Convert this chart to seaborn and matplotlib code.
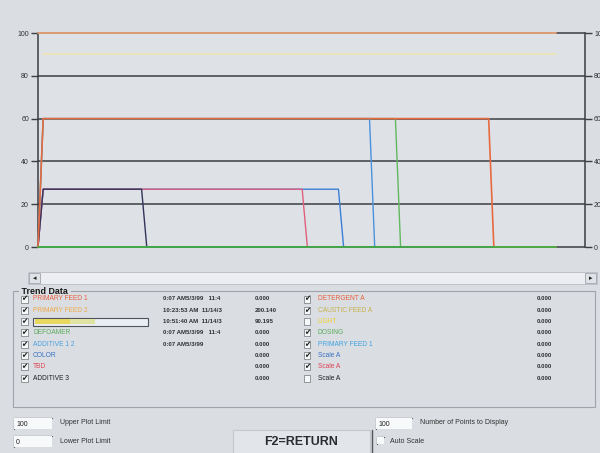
import matplotlib
matplotlib.use("Agg")
import matplotlib.pyplot as plt
import seaborn as sns
import pandas as pd
from matplotlib.patches import Rectangle
from matplotlib.lines import Line2D

sns.set_theme(style="white")
plt.rcParams['font.family'] = ['Liberation Sans', 'DejaVu Sans']

# ---------------- data (sample index vs value) ----------------
top_x = [0, 100];                 top_y = [100, 100]
upper_x = [1, 100];               upper_y = [90, 90]
green60_x = [0, 1, 69, 70, 100];  green60_y = [0, 60, 60, 0, 0]
blue60_x = [0, 1, 64, 65, 100];   blue60_y = [0, 60, 60, 0, 0]
feed1_x = [0, 1, 87, 88, 100];    feed1_y = [0, 60, 60, 0, 0]
blue27_x = [0, 1, 58, 59, 100];   blue27_y = [0, 27, 27, 0, 0]
pink27_x = [0, 1, 51, 52, 100];   pink27_y = [0, 27, 27, 0, 0]
navy27_x = [0, 1, 20, 21, 100];   navy27_y = [0, 27, 27, 0, 0]
base_x = [0, 100];                base_y = [0, 0]

y_ticks = [0, 20, 40, 60, 80, 100]

left_labels = ["PRIMARY FEED 1", "PRIMARY FEED 2", "", "DEFOAMER",
               "ADDITIVE 1 2", "COLOR", "TBD", "ADDITIVE 3"]
left_colors = ["#e8603c", "#f0a848", "#d8c040", "#5caa5c",
               "#4aa0e0", "#3a70c0", "#e04858", "#202020"]
left_times = ["0:07 AM5/3/99   11:4", "10:23:53 AM  11/14/3",
              "10:51:40 AM  11/14/3", "0:07 AM5/3/99   11:4",
              "0:07 AM5/3/99", "", "", ""]
left_values = ["0.000", "200.140", "90.195", "0.000",
               "0.000", "0.000", "0.000", "0.000"]
left_checked = [True] * 8

right_labels = ["DETERGENT A", "CAUSTIC FEED A", "LIGHT", "DOSING",
                "PRIMARY FEED 1", "Scale A", "Scale A", "Scale A"]
right_colors = ["#e8603c", "#c8b048", "#f0d030", "#5caa5c",
                "#40a0e0", "#3a70c0", "#e04050", "#202020"]
right_values = ["0.000"] * 8
right_checked = [True, True, False, True, True, True, True, False]

# ---------------- figure ----------------
W, H = 600, 453
bg = "#dadee3"
fig = plt.figure(figsize=(W / 100, H / 100), dpi=100, facecolor=bg)

def fx(x):
    return x / W

def fy(y):
    return 1 - y / H

ax = fig.add_axes([fx(38), fy(247), fx(585) - fx(38), fy(33) - fy(247)])
ax.set_facecolor("#dee2e7")
ax.set_xlim(0, 105.6)
ax.set_ylim(0, 100)

for v in y_ticks:
    ax.axhline(v, color="#3a3d42", lw=1.1, zorder=1, clip_on=False)

def draw(xs, ys, color, lw=1.0, z=3):
    df = pd.DataFrame({"x": xs, "y": ys})
    sns.lineplot(data=df, x="x", y="y", ax=ax, color=color, lw=lw,
                 zorder=z, clip_on=False, estimator=None, sort=False)

draw(top_x, top_y, "#e8a478", lw=1.3)
draw(upper_x, upper_y, "#eee6b8", lw=1.3)
draw(green60_x, green60_y, "#62b85e")
draw(blue60_x, blue60_y, "#4a92dc")
draw(feed1_x, feed1_y, "#e86a40", lw=1.2, z=4)
draw(blue27_x, blue27_y, "#3c7ed4")
draw(pink27_x, pink27_y, "#e0607c")
draw(navy27_x, navy27_y, "#34345a")
draw(base_x, base_y, "#44b048", lw=1.3, z=5)

ax.set_xlabel("")
ax.set_ylabel("")
ax.set_xticks([])
ax.set_yticks(y_ticks)
ax.set_yticklabels([str(v) for v in y_ticks])
ax.tick_params(axis="y", which="both", left=True, right=True,
               labelleft=True, labelright=True, length=5, width=1,
               color="#3a3d42", labelsize=5, labelcolor="#303030", pad=1.5,
               direction="out")
for s in ["top", "bottom"]:
    ax.spines[s].set_visible(False)
for s in ["left", "right"]:
    ax.spines[s].set_color("#3a3d42")
    ax.spines[s].set_linewidth(1.1)

# ---------------- widgets ----------------
def rect(x0, y0, x1, y1, fc="none", ec="none", lw=0.8, z=2):
    fig.patches.append(Rectangle((fx(x0), fy(y1)), fx(x1) - fx(x0),
                                 fy(y0) - fy(y1), transform=fig.transFigure,
                                 facecolor=fc, edgecolor=ec, lw=lw, zorder=z))

def hline(x0, x1, y, color, lw=0.8):
    fig.add_artist(Line2D([fx(x0), fx(x1)], [fy(y), fy(y)],
                          transform=fig.transFigure, color=color, lw=lw))

def vline(x, y0, y1, color, lw=0.8):
    fig.add_artist(Line2D([fx(x), fx(x)], [fy(y0), fy(y1)],
                          transform=fig.transFigure, color=color, lw=lw))

def text(x, y, s, **kw):
    fig.text(fx(x), fy(y), s, **kw)

# scroll bar
rect(28, 272, 597, 284, fc="#eceef1", ec="#b8bcc2", lw=0.6)
rect(29, 273, 40, 283, fc="#dfe2e6", ec="#a0a4aa", lw=0.6)
text(34.5, 278.5, "\u25c2", fontsize=5, ha="center", va="center", color="#202020",
     family=["DejaVu Sans"])
vline(42, 273, 283, "#606468", lw=1.0)
vline(45, 273, 283, "#606468", lw=1.0)
rect(585, 273, 596, 283, fc="#dfe2e6", ec="#a0a4aa", lw=0.6)
text(590.5, 278.5, "\u25b8", fontsize=5, ha="center", va="center", color="#202020",
     family=["DejaVu Sans"])

# Trend data group box
rect(13, 291, 595, 407, fc="none", ec="#9ea3aa", lw=0.8)
text(19, 291, " Trend Data ", fontsize=6.4, fontweight="bold", ha="left",
     va="center", color="#181818",
     bbox=dict(facecolor=bg, edgecolor="none", pad=0.3))

row_y0, row_dy = 299.0, 11.3

def checkbox(x, y, checked):
    rect(x - 3.5, y - 3.5, x + 3.5, y + 3.5, fc="#f6f7f8", ec="#70747a", lw=0.5, z=3)
    if checked:
        text(x, y, "\u2714", fontsize=5.5, ha="center", va="center",
             color="#202020", family=["DejaVu Sans"])

for i in range(8):
    y = row_y0 + i * row_dy
    checkbox(24, y, left_checked[i])
    if i == 2:
        rect(33, y - 4, 148, y + 4, fc="#e8eef2", ec="#50545a", lw=0.8, z=3)
        rect(35, y - 2.2, 70, y + 2.2, fc="#e8d860", ec="none", z=4)
        rect(70, y - 2.2, 95, y + 2.2, fc="#dfe2a0", ec="none", z=4)
    else:
        text(33, y, left_labels[i], fontsize=4.8, ha="left", va="center",
             color=left_colors[i])
    text(163, y, left_times[i], fontsize=4.4, ha="left", va="center",
         color="#303034", fontweight="bold")
    text(255, y, left_values[i], fontsize=4.4, ha="left", va="center",
         color="#303034", fontweight="bold")
    checkbox(307, y, right_checked[i])
    text(318, y, right_labels[i], fontsize=4.8, ha="left", va="center",
         color=right_colors[i])
    text(537, y, right_values[i], fontsize=4.4, ha="left", va="center",
         color="#303034", fontweight="bold")

# bottom controls
def textbox(x0, y0, x1, y1, s):
    rect(x0, y0, x1, y1, fc="#f8f9fa", ec="none", z=3)
    hline(x0, x1, y0, "#606468", lw=0.9)
    vline(x0, y0, y1, "#606468", lw=0.9)
    text(x0 + 2, (y0 + y1) / 2 + 0.5, s, fontsize=5, ha="left", va="center",
         color="#202020")

textbox(14, 418, 52, 429, "100")
text(60, 423, "Upper Plot Limit", fontsize=5, ha="left", va="center", color="#303030")
textbox(14, 436, 52, 447, "0")
text(60, 441.5, "Lower Plot Limit", fontsize=5, ha="left", va="center", color="#303030")

rect(233, 430, 370, 455, fc="#e2e5e9", ec="#c4c8cd", lw=0.8)
text(301, 442, "F2=RETURN", fontsize=9, fontweight="bold", ha="center",
     va="center", color="#2a2c30")
vline(372, 430, 453, "#505458", lw=1.0)

textbox(376, 418, 412, 429, "100")
text(420, 423, "Number of Points to Display", fontsize=5, ha="left", va="center",
     color="#303030")
rect(377, 437, 384, 444, fc="#f8f9fa", ec="none", z=3)
hline(377, 384, 437, "#505458", lw=0.9)
vline(377, 437, 444, "#505458", lw=0.9)
text(390, 441.5, "Auto Scale", fontsize=5, ha="left", va="center", color="#303030")

fig.savefig("out.png", dpi=100, facecolor=bg)
